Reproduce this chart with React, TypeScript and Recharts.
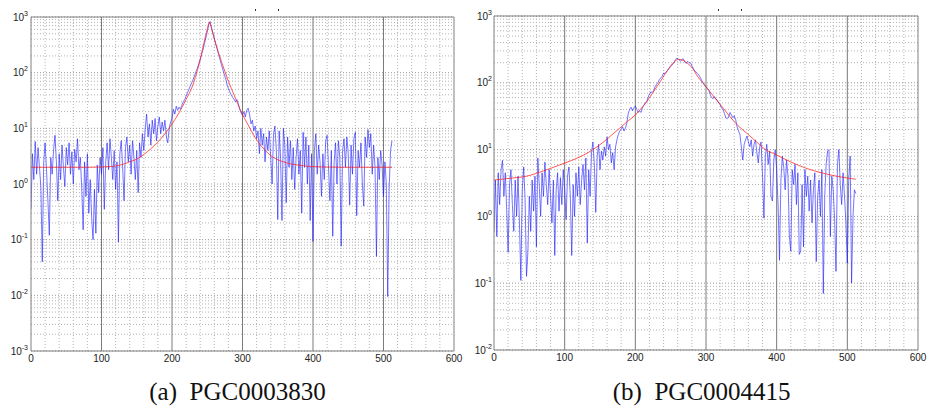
import { CartesianGrid, Line, LineChart, ReferenceLine, XAxis, YAxis } from 'recharts'

const SANS = '"Liberation Sans", Arial, Helvetica, sans-serif'
const SERIF = '"Liberation Serif", "Times New Roman", serif'

// blue spectra sampled every 2 channels, 0..512
const STEP = 2

const BLUE_A = [
  0.35, 3.5, 1.2, 5.8, 1.5, 4.5, 2.0, 0.9, 0.04, 2.5,
  5.5, 1.8, 0.5, 0.12, 3.0, 1.5, 4.0, 7.5, 2.5, 0.5,
  3.5, 1.2, 5.0, 2.0, 0.9, 4.5, 2.2, 5.5, 1.5, 3.8,
  1.0, 4.2, 2.5, 6.5, 1.8, 3.0, 0.8, 0.15, 2.5, 0.6,
  3.5, 0.3, 1.2, 0.25, 0.1, 0.8, 0.13, 2.2, 0.7, 3.0,
  1.5, 4.5, 0.35, 2.5, 5.5, 1.8, 6.5, 3.0, 1.2, 4.0,
  0.8, 2.5, 0.09, 3.5, 6.0, 2.0, 0.5, 4.5, 7.0, 2.5,
  5.0, 1.5, 6.0, 3.0, 1.2, 4.0, 0.7, 5.5, 3.0, 8.0,
  4.0, 10, 18, 7.0, 12, 5.0, 14, 8.0, 15, 6.0,
  11, 16, 8.0, 13, 9.0, 14, 7.0, 5.5, 10, 13,
  15, 22, 18, 25, 21, 24, 22, 26, 30, 33,
  38, 44, 50, 58, 66, 75, 88, 105, 120, 145,
  175, 215, 260, 330, 420, 540, 720, 830, 650, 520,
  420, 330, 270, 215, 175, 140, 115, 95, 78, 62,
  52, 45, 40, 36, 33, 30, 33, 28, 22, 19,
  17, 20, 16, 21, 23, 18, 12, 14, 9.0, 11,
  6.5, 9.0, 3.5, 10, 5.0, 8.0, 2.5, 7.0, 4.0, 9.0,
  3.0, 1.0, 8.0, 11, 4.0, 0.23, 9.0, 3.0, 0.22, 10,
  5.0, 0.46, 7.0, 2.0, 6.0, 1.2, 4.5, 0.8, 3.0, 6.5,
  1.5, 4.0, 0.3, 8.5, 2.0, 7.0, 1.0, 5.0, 0.22, 3.5,
  0.093, 4.0, 8.0, 1.5, 5.0, 2.5, 0.6, 3.5, 1.2, 6.0,
  7.5, 2.0, 0.5, 4.0, 0.115, 2.5, 5.5, 1.0, 6.0, 3.0,
  0.076, 4.0, 6.5, 2.0, 7.0, 3.5, 0.42, 5.0, 1.5, 6.5,
  8.5, 0.27, 4.0, 2.0, 5.5, 1.0, 0.4, 7.0, 3.0, 9.5,
  4.5, 8.0, 1.5, 5.0, 2.0, 0.05, 3.0, 1.2, 4.0, 2.2,
  0.6, 2.5, 1.0, 0.0095, 0.8, 4.0, 6.0,
]

const BLUE_B = [
  0.6, 3.5, 0.5, 4.5, 1.5, 5.0, 6.9, 2.0, 4.5, 1.2,
  0.29, 3.0, 5.0, 1.5, 0.6, 3.5, 1.0, 4.0, 0.8, 0.11,
  2.5, 5.5, 1.8, 0.127, 0.3, 2.0, 0.6, 3.5, 1.2, 4.0,
  0.35, 7.5, 3.0, 1.0, 4.5, 2.0, 6.5, 3.0, 1.5, 5.0,
  2.0, 0.8, 3.5, 0.26, 2.5, 4.5, 1.2, 3.8, 1.5, 5.0,
  2.5, 0.9, 4.0, 5.5, 2.0, 0.26, 3.0, 1.0, 4.5, 2.0,
  5.5, 1.5, 3.5, 6.0, 2.5, 7.5, 0.4, 5.0, 2.0, 9.0,
  13, 6.0, 1.15, 8.0, 12, 5.0, 9.5, 7.0, 11, 8.0,
  15.5, 10, 12, 6.3, 9.0, 5.0, 11, 14, 17, 19,
  20, 22, 19, 21, 25, 35, 40, 43, 38, 42,
  45, 40, 36, 38, 36, 42, 46, 50, 52, 60,
  68, 73, 72, 76, 88, 95, 100, 112, 118, 125,
  140, 138, 145, 155, 165, 175, 185, 195, 215, 230,
  232, 220, 210, 225, 228, 205, 195, 210, 200, 200,
  180, 165, 150, 145, 138, 130, 120, 108, 100, 92,
  88, 82, 78, 66, 60, 58, 62, 57, 55, 50,
  47, 42, 40, 35, 30, 29, 31, 36, 33, 30,
  32, 28, 22, 19, 17, 11, 7.0, 12, 14, 16,
  13, 11, 14, 8.0, 12, 14, 9.0, 6.3, 11, 13,
  4.0, 0.94, 8.0, 12, 6.0, 9.5, 2.0, 1.7, 7.0, 10,
  5.0, 1.5, 0.22, 3.5, 8.0, 5.5, 2.5, 7.0, 4.0, 0.5,
  0.3, 5.0, 3.0, 6.0, 1.5, 4.5, 0.27, 0.3, 3.0, 0.35,
  5.0, 2.0, 4.0, 1.2, 3.5, 0.8, 2.5, 4.5, 0.21, 2.0,
  3.5, 1.0, 5.0, 0.07, 2.0, 6.0, 9.5, 10, 0.5, 4.0,
  2.5, 0.9, 0.15, 6.0, 10, 3.0, 1.5, 4.5, 2.0, 0.8,
  0.2, 3.5, 8.0, 0.1, 1.0, 2.5, 2.2,
]

// red fitted profiles
const RED_A_X = [
  0, 20, 40, 60, 80, 100, 110, 120, 130, 140, 150, 160, 170, 180, 190, 200,
  210, 220, 230, 236, 240, 245, 250, 253, 256, 260, 265, 270, 275, 280, 288,
  298, 308, 318, 328, 338, 348, 358, 368, 378, 390, 400, 420, 440, 460, 480,
  500, 512,
]
const RED_A_Y = [
  2.0, 2.0, 2.0, 2.0, 2.0, 2.02, 2.05, 2.1, 2.25, 2.5, 2.8, 3.4, 4.3, 5.7, 8.0,
  12, 19, 33, 62, 110, 170, 330, 600, 800, 620, 400, 250, 160, 105, 70, 40, 20,
  11.5, 6.8, 4.6, 3.4, 2.8, 2.5, 2.3, 2.2, 2.1, 2.05, 2.02, 2.0, 2.0, 2.0, 2.0,
  2.0,
]

const RED_B_X = [
  0, 20, 46, 70, 93, 110, 126, 140, 155, 165, 178, 190, 200, 208, 216, 225,
  235, 242, 249, 255, 261, 268, 274, 280, 288, 296, 305, 315, 325, 334, 345,
  358, 370, 382, 400, 419, 443, 467, 490, 512,
]
const RED_B_Y = [
  3.5, 3.7, 4.0, 4.8, 5.9, 6.9, 8.2, 10, 13, 16, 21, 27, 33, 41, 52, 72, 103,
  135, 174, 205, 225, 215, 195, 170, 125, 98, 75, 55, 41, 31, 23, 17.5, 13.5,
  10.4, 8.3, 6.6, 5.2, 4.4, 3.9, 3.6,
]

const X_TICKS = [0, 100, 200, 300, 400, 500, 600]
const X_MAJOR_GRID = [100, 200, 300, 400, 500]
const X_MINOR_GRID = [
  20, 40, 60, 80, 120, 140, 160, 180, 220, 240, 260, 280, 320, 340, 360, 380,
  420, 440, 460, 480, 520, 540, 560, 580,
]
const A_DECADES = [-3, -2, -1, 0, 1, 2, 3]
const B_DECADES = [-2, -1, 0, 1, 2, 3]

const CAPTION_A = '(a)  PGC0003830'
const CAPTION_B = '(b)  PGC0004415'

function minorValues(decades: number[]) {
  const out: number[] = []
  for (let i = 0; i < decades.length - 1; i++) {
    for (let k = 2; k <= 9; k++) out.push(k * Math.pow(10, decades[i]))
  }
  return out
}

function LogTick(props: any) {
  const { x, y, payload } = props
  const e = Math.round(Math.log10(payload.value))
  return (
    <text x={x} y={y + 3.5} textAnchor="end" fontSize={10} fontFamily={SANS} fill="#222">
      <tspan>10</tspan>
      <tspan dy={-5} fontSize={7}>
        {e}
      </tspan>
    </text>
  )
}

interface PanelProps {
  left: number
  margin: { top: number; right: number; bottom: number; left: number }
  yWidth: number
  tickGap: number
  decades: number[]
  blue: number[]
  redX: number[]
  redY: number[]
}

function Panel({ left, margin, yWidth, tickGap, decades, blue, redX, redY }: PanelProps) {
  const blueData = blue.map((v, i) => ({ x: i * STEP, y: v }))
  const redData = redX.map((x, i) => ({ x, y: redY[i] }))
  const yTicks = decades.map((d) => Math.pow(10, d))
  const yMin = yTicks[0]
  const yMax = yTicks[yTicks.length - 1]
  return (
    <div style={{ position: 'absolute', left, top: 0 }}>
      <LineChart width={465} height={409} margin={margin}>
        <CartesianGrid
          stroke="#b4b4b4"
          strokeDasharray="1 2"
          verticalValues={X_MINOR_GRID}
          horizontalValues={minorValues(decades)}
        />
        <CartesianGrid
          stroke="#9a9a9a"
          strokeDasharray="1 2"
          vertical={false}
          horizontalValues={yTicks}
        />
        <CartesianGrid stroke="#7a7a7a" horizontal={false} verticalValues={X_MAJOR_GRID} />
        <XAxis
          type="number"
          dataKey="x"
          domain={[0, 600]}
          ticks={X_TICKS}
          interval={0}
          allowDataOverflow
          axisLine={false}
          tickLine={false}
          tickSize={0}
          tickMargin={4}
          height={30}
          tick={{ fontSize: 10, fill: '#222', fontFamily: SANS }}
        />
        <YAxis
          type="number"
          dataKey="y"
          scale="log"
          domain={[yMin, yMax]}
          ticks={yTicks}
          interval={0}
          allowDataOverflow
          axisLine={false}
          tickLine={false}
          tickSize={0}
          tickMargin={tickGap}
          width={yWidth}
          tick={<LogTick />}
        />
        <Line
          data={blueData}
          dataKey="y"
          type="linear"
          stroke="#1a1aff"
          strokeOpacity={0.6}
          strokeWidth={1}
          dot={false}
          isAnimationActive={false}
        />
        <Line
          data={redData}
          dataKey="y"
          type="monotone"
          stroke="#ff2020"
          strokeOpacity={0.75}
          strokeWidth={1}
          dot={false}
          isAnimationActive={false}
        />
        <ReferenceLine x={0} stroke="#808080" ifOverflow="visible" />
        <ReferenceLine x={600} stroke="#808080" ifOverflow="visible" />
        <ReferenceLine y={yMin} stroke="#808080" ifOverflow="visible" />
        <ReferenceLine y={yMax} stroke="#808080" ifOverflow="visible" />
      </LineChart>
    </div>
  )
}

export default function App() {
  return (
    <div
      style={{
        position: 'absolute',
        left: 0,
        top: 0,
        width: 930,
        height: 409,
        background: '#fff',
        overflow: 'hidden',
      }}
    >
      <Panel
        left={0}
        margin={{ top: 17, right: 11, bottom: 28, left: 0 }}
        yWidth={31}
        tickGap={3}
        decades={A_DECADES}
        blue={BLUE_A}
        redX={RED_A_X}
        redY={RED_A_Y}
      />
      <Panel
        left={465}
        margin={{ top: 16, right: 12, bottom: 29, left: 0 }}
        yWidth={29}
        tickGap={2}
        decades={B_DECADES}
        blue={BLUE_B}
        redX={RED_B_X}
        redY={RED_B_Y}
      />
      <svg
        width={930}
        height={409}
        style={{ position: 'absolute', left: 0, top: 0, pointerEvents: 'none' }}
      >
        <rect x={255} y={9} width={1} height={2} fill="#333" />
        <rect x={278} y={9} width={1} height={2} fill="#333" />
        <rect x={718} y={9} width={1} height={2} fill="#333" />
        <rect x={741} y={9} width={1} height={2} fill="#333" />
        <text
          x={237.5}
          y={400}
          textAnchor="middle"
          fontSize={25}
          fontFamily={SERIF}
          fill="#111"
          style={{ whiteSpace: 'pre' }}
        >
          {CAPTION_A}
        </text>
        <text
          x={701.7}
          y={400}
          textAnchor="middle"
          fontSize={25}
          fontFamily={SERIF}
          fill="#111"
          style={{ whiteSpace: 'pre' }}
        >
          {CAPTION_B}
        </text>
      </svg>
    </div>
  )
}
